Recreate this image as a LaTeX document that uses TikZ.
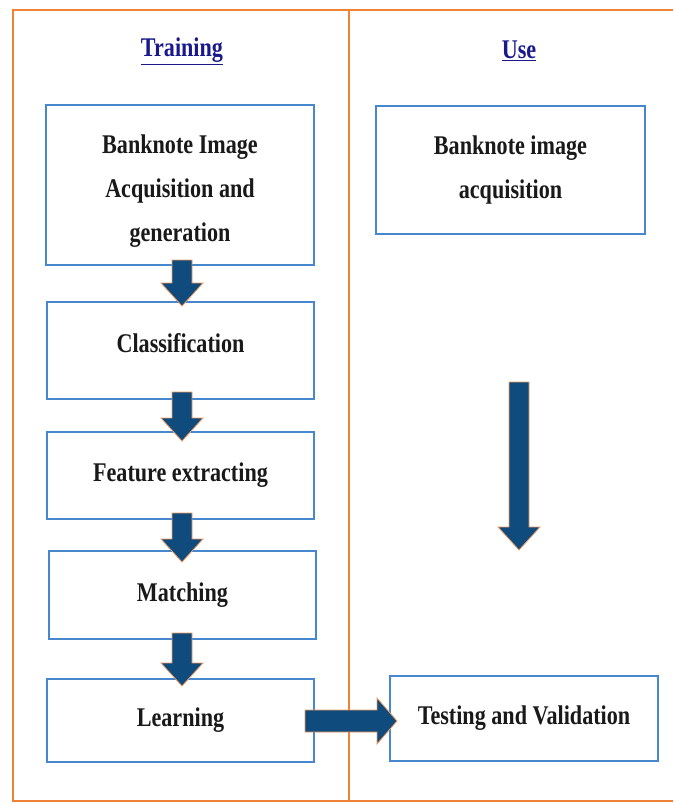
\documentclass[tikz,border=0pt]{standalone}
\usepackage{fontspec}
\setmainfont{Liberation Serif}[FakeStretch=0.82]
\usepackage{tikz}
\usetikzlibrary{positioning, calc}
\definecolor{frameOrange}{RGB}{240, 130, 55}
\definecolor{boxBlue}{RGB}{70, 135, 205}
\definecolor{arrowFill}{RGB}{15, 75, 125}
\definecolor{titleNavy}{RGB}{25, 25, 140}
\definecolor{textDark}{RGB}{25, 25, 25}
\tikzset{
    step_box/.style={
        draw=boxBlue,
        line width=2pt,
        fill=white,
        inner sep=0pt,
        align=center,
        text=textDark,
        font=\fontsize{27}{44}\selectfont\bfseries
    },
    col_title/.style={
        text=titleNavy,
        font=\fontsize{27}{32}\selectfont\bfseries
    },
    frame_line/.style={
        draw=frameOrange,
        line width=2pt
    },
    block_arrow/.style={
        fill=arrowFill,
        draw=frameOrange!80,
        line width=0.8pt,
        line join=miter
    }
}
% thick block arrows
\newcommand{\downBlock}[2]{%
    \filldraw[block_arrow] let \p1=#1, \p2=#2 in
        (\x1-10pt,\y1) -- (\x1-10pt,\y2+23pt) -- (\x1-21pt,\y2+23pt) -- (\x1,\y2)
        -- (\x1+21pt,\y2+23pt) -- (\x1+10pt,\y2+23pt) -- (\x1+10pt,\y1) -- cycle;}
\newcommand{\rightBlock}[2]{%
    \filldraw[block_arrow] let \p1=#1, \p2=#2 in
        (\x1,\y1+11pt) -- (\x2-20pt,\y1+11pt) -- (\x2-20pt,\y1+23pt) -- (\x2,\y1)
        -- (\x2-20pt,\y1-23pt) -- (\x2-20pt,\y1-11pt) -- (\x1,\y1-11pt) -- cycle;}

\begin{document}
\begin{tikzpicture}[x=1pt, y=-1pt]
    \useasboundingbox (0,0) rectangle (673,804);
    \begin{scope}
        \clip (0,0) rectangle (673,804);
        % outer frame and column divider
        \draw[frame_line] (673,10) -- (13,10) -- (13,801) -- (673,801);
        \draw[frame_line] (349,10) -- (349,801);
    \end{scope}

    \node[col_title] (train_title) at (182,51) {\underline{Training}};
    \node[col_title] (use_title) at (519,51) {\underline{Use}};

    % training column
    \node[step_box, minimum width=268pt, minimum height=160pt] (acq) at (180,185)
        {\raisebox{-10pt}[0pt][0pt]{\begin{tabular}{@{}c@{}}Banknote Image\\Acquisition and\\generation\end{tabular}}};
    \node[step_box, minimum width=267pt, minimum height=97pt] (cls) at (180.5,350.5)
        {\raisebox{-2pt}[0pt][0pt]{Classification}};
    \node[step_box, minimum width=267pt, minimum height=87pt] (feat) at (180.5,475.5)
        {Feature extracting};
    \node[step_box, minimum width=267pt, minimum height=88pt] (match) at (182.5,595)
        {Matching};
    \node[step_box, minimum width=267pt, minimum height=83pt] (learn) at (180.5,720.5)
        {Learning};

    % use column
    \node[step_box, minimum width=269pt, minimum height=128pt] (racq) at (510.5,170)
        {Banknote image\\acquisition};
    \node[step_box, minimum width=268pt, minimum height=85pt] (test) at (524,718.5)
        {Testing and Validation};
    \coordinate (use_top) at (519,382);
    \coordinate (use_tip) at (519,550);

    \downBlock{($(acq.south)+(2,-6)$)}{($(cls.north)+(0,5)$)}
    \downBlock{($(cls.south)+(1.5,-8)$)}{($(feat.north)+(0,10)$)}
    \downBlock{($(feat.south)+(1.5,-7)$)}{($(match.north)+(0,12)$)}
    \downBlock{($(match.south)+(-0.5,-7)$)}{($(learn.north)+(0,8)$)}
    \downBlock{(use_top)}{(use_tip)}
    \rightBlock{($(learn.east)+(-10,0.5)$)}{($(test.west)+(8,0)$)}
\end{tikzpicture}
\end{document}
